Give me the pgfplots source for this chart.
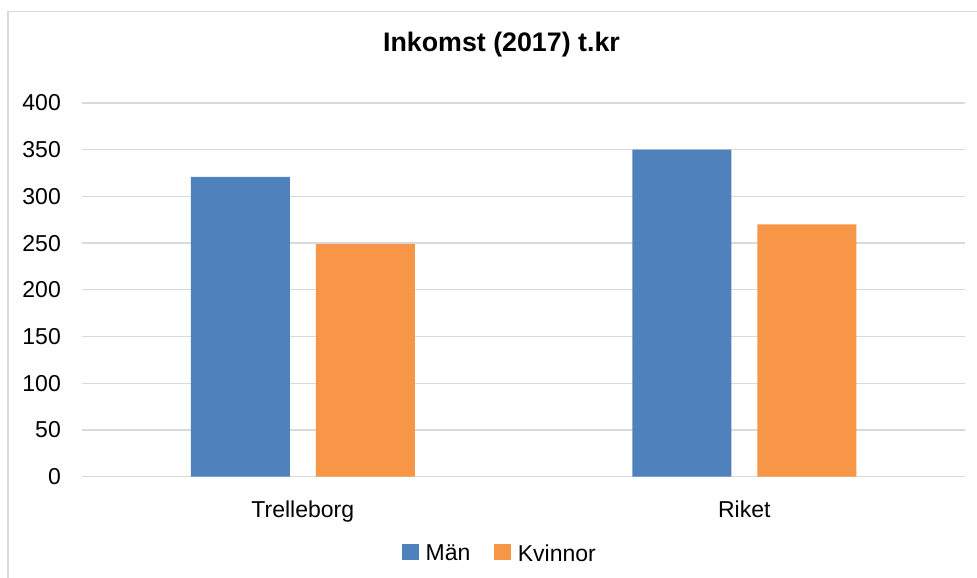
\documentclass[border=0pt]{standalone}
\usepackage{pgfplots}
\pgfplotsset{compat=1.18}
\usepackage{fontspec}
\setmainfont{Liberation Sans}
\definecolor{man}{HTML}{4F81BD}
\definecolor{kv}{HTML}{F79646}
\definecolor{gridc}{HTML}{D9D9D9}
\begin{document}
\begin{tikzpicture}[x=1pt,y=1pt]
\path[use as bounding box] (0,0) rectangle (977,578);
\fill[white] (0,0) rectangle (977,578);
\draw[line width=1.6pt, color=gridc] (8,-5) -- (8,566.5) -- (985,566.5);
\begin{axis}[
  at={(82pt,101.3pt)}, anchor=south west,
  scale only axis, width=883pt, height=373.7pt,
  xmin=-0.5, xmax=1.5, ymin=0, ymax=400,
  ytick={0,50,...,400},
  xtick={0,1}, xticklabels={Trelleborg,Riket},
  axis line style={draw=none},
  major tick length=0pt,
  ymajorgrids, grid style={gridc, line width=1.3pt},
  ybar=26pt, bar width=99pt,
  tick label style={font=\fontsize{23}{27}\selectfont},
  /pgf/number format/assume math mode=true,
  yticklabel style={anchor=east, inner sep=0pt, xshift=-21pt},
  xticklabel style={anchor=base, inner sep=0pt, yshift=-41.3pt},
  legend columns=2,
  legend style={at={(0.4734,-0.2055)}, anchor=center, draw=none, fill=none,
    font=\fontsize{23}{27}\selectfont,
    /tikz/every even column/.append style={column sep=22pt}},
  legend image code/.code={\fill[#1] (0pt,-7pt) rectangle (16.6pt,9.6pt); \path (21.5pt,0pt);},
]
\addplot[fill=man, draw=none] coordinates {(0,321) (1,350)};
\addplot[fill=kv, draw=none] coordinates {(0,249) (1,270)};
\legend{Män,Kvinnor}
\end{axis}
\node[anchor=base, font=\fontsize{26.8}{30}\selectfont\bfseries] at (501.5,526) {Inkomst (2017) t.kr};
\end{tikzpicture}
\end{document}
